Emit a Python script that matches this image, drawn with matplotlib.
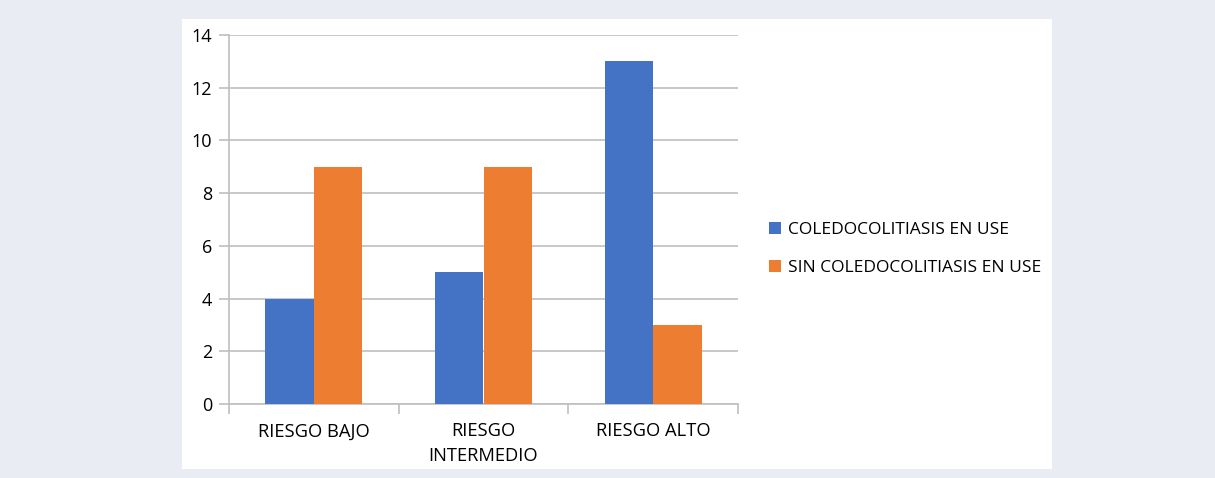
#!/usr/bin/env python3
"""Grouped bar chart: coledocolitiasis en USE por grupo de riesgo."""
import matplotlib

matplotlib.use("Agg")

import matplotlib.pyplot as plt
import numpy as np
from matplotlib.patches import Rectangle

categories = ["RIESGO BAJO", "RIESGO\nINTERMEDIO", "RIESGO ALTO"]
series_names = ["COLEDOCOLITIASIS EN USE", "SIN COLEDOCOLITIASIS EN USE"]
con_coledoco = [4, 5, 13]
sin_coledoco = [9, 9, 3]
y_ticks = [0, 2, 4, 6, 8, 10, 12, 14]

BLUE = "#4472c4"
ORANGE = "#ed7d31"
GRID = "#bfbfbf"
TEXT = "#000000"

plt.rcParams["font.family"] = ["Open Sans", "DejaVu Sans"]

W, H = 1215, 478
fig = plt.figure(figsize=(W / 100, H / 100), dpi=100)
fig.patch.set_facecolor("#e9ecf2")

# white panel behind the chart
fig.add_artist(Rectangle((182 / W, 1 - 469 / H), (1052 - 182) / W, (469 - 19) / H,
                         transform=fig.transFigure, facecolor="white",
                         edgecolor="none", zorder=0))

ax = fig.add_axes([229 / W, 1 - 404 / H, (738 - 229) / W, (404 - 35) / H])
ax.set_facecolor("none")

x = np.arange(len(categories))
bw = 0.285
b1 = ax.bar(x - bw / 2, con_coledoco, bw, color=BLUE, label=series_names[0], zorder=3)
b2 = ax.bar(x + bw / 2, sin_coledoco, bw, color=ORANGE, label=series_names[1], zorder=3)

ax.set_xlim(-0.5, len(categories) - 0.5)
ax.set_ylim(0, 14)
ax.set_yticks(y_ticks)
ax.grid(True, axis="y", color=GRID, linewidth=1.2, zorder=0)

for side in ("top", "right"):
    ax.spines[side].set_visible(False)
for side in ("left", "bottom"):
    ax.spines[side].set_color(GRID)
    ax.spines[side].set_linewidth(1.2)

ax.tick_params(axis="y", length=7, color=GRID, width=1.2, labelsize=13,
               labelcolor=TEXT, pad=5)
# category labels centred, tick marks on the boundaries
ax.set_xticks(np.arange(-0.5, len(categories), 1.0))
ax.set_xticklabels([])
ax.tick_params(axis="x", length=7, color=GRID, width=1.2)
for xi, lab in zip(x, categories):
    ax.text(xi, -0.7, lab, ha="center", va="top", fontsize=13.2,
            color=TEXT, linespacing=1.45, transform=ax.transData)

ax.legend(handles=[b1, b2], loc="center left", bbox_to_anchor=(1.03, 0.42),
          frameon=False, fontsize=12.5, handlelength=0.7, handleheight=0.7,
          handletextpad=0.4, labelspacing=1.3, labelcolor=TEXT)

fig.savefig("out.png", dpi=100, facecolor=fig.get_facecolor())
